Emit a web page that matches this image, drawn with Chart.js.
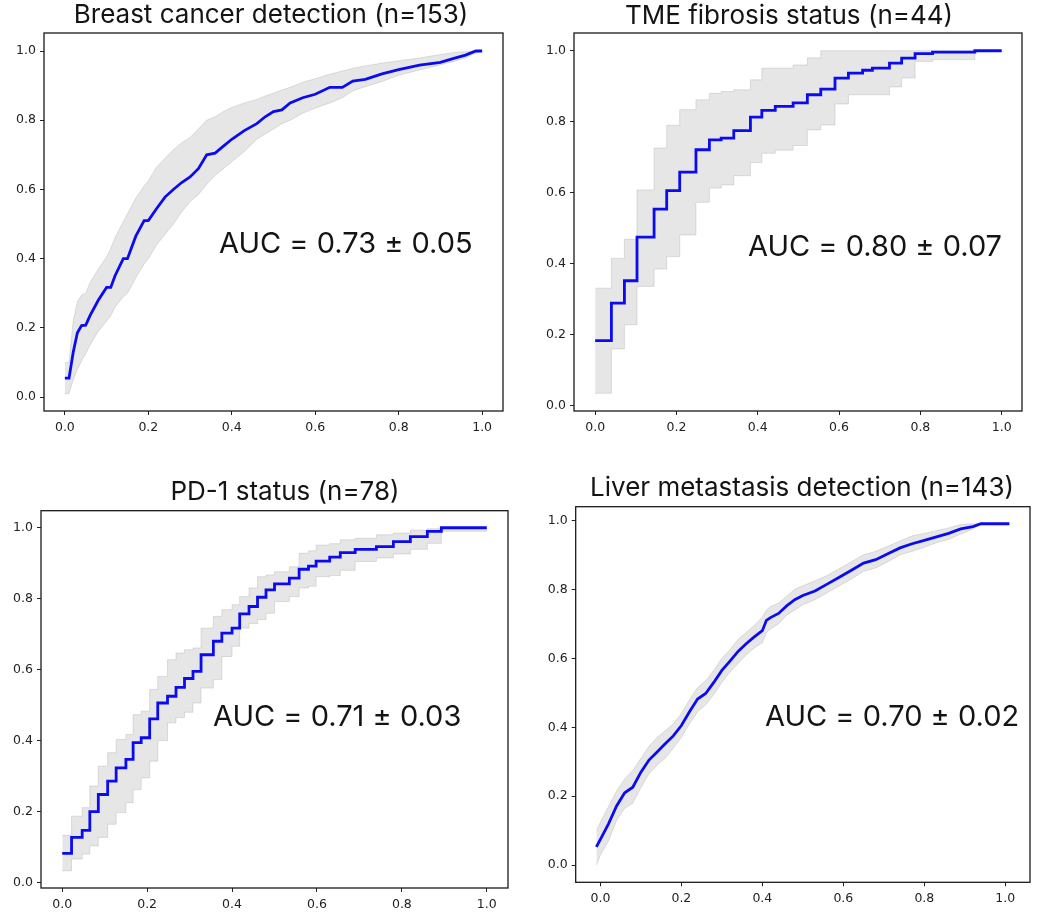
<!DOCTYPE html>
<html>
<head>
<meta charset="utf-8">
<script src="https://cdn.jsdelivr.net/npm/chart.js@4.4.1/dist/chart.umd.min.js"></script>
<style>
  html, body { margin: 0; padding: 0; background: #ffffff; }
  #wrap { position: relative; width: 1057px; height: 923px; overflow: hidden; }
  canvas { position: absolute; }
</style>
</head>
<body>
<div id="wrap">
  <canvas id="c1" width="520" height="450" style="left:0px;top:0px;width:520px;height:450px"></canvas>
  <canvas id="c2" width="537" height="450" style="left:520px;top:0px;width:537px;height:450px"></canvas>
  <canvas id="c3" width="520" height="463" style="left:0px;top:460px;width:520px;height:463px"></canvas>
  <canvas id="c4" width="537" height="463" style="left:520px;top:460px;width:537px;height:463px"></canvas>
</div>
<script>
// ---------------- data ----------------
const tickValues = [0, 0.2, 0.4, 0.6, 0.8, 1.0];

const titles = [
  "Breast cancer detection (n=153)",
  "TME fibrosis status (n=44)",
  "PD-1 status (n=78)",
  "Liver metastasis detection (n=143)"
];
const aucLabels = ["AUC = 0.73 \u00b1 0.05", "AUC = 0.80 \u00b1 0.07", "AUC = 0.71 \u00b1 0.03", "AUC = 0.70 \u00b1 0.02"];

// Breast cancer detection
const breastFpr   = [0, 0.01, 0.02, 0.03, 0.04, 0.05, 0.06, 0.08, 0.10, 0.11, 0.12, 0.14, 0.15, 0.17, 0.19, 0.20, 0.22, 0.24, 0.26, 0.28, 0.30, 0.32, 0.34, 0.36, 0.38, 0.40, 0.43, 0.46, 0.48, 0.50, 0.52, 0.54, 0.57, 0.60, 0.635, 0.665, 0.69, 0.72, 0.76, 0.80, 0.85, 0.90, 0.93, 0.96, 0.985, 1.0];
const breastMean  = [0.055, 0.055, 0.13, 0.186, 0.207, 0.208, 0.235, 0.28, 0.317, 0.317, 0.35, 0.40, 0.40, 0.465, 0.51, 0.51, 0.545, 0.578, 0.60, 0.62, 0.636, 0.66, 0.70, 0.705, 0.725, 0.745, 0.77, 0.79, 0.81, 0.825, 0.83, 0.85, 0.865, 0.875, 0.895, 0.895, 0.913, 0.918, 0.934, 0.946, 0.959, 0.967, 0.978, 0.988, 1.0, 1.0];
const breastUpper = [0.10, 0.10, 0.22, 0.275, 0.295, 0.30, 0.33, 0.37, 0.405, 0.43, 0.46, 0.507, 0.53, 0.575, 0.61, 0.625, 0.665, 0.69, 0.715, 0.735, 0.75, 0.775, 0.80, 0.81, 0.825, 0.837, 0.85, 0.86, 0.87, 0.878, 0.887, 0.895, 0.91, 0.92, 0.933, 0.942, 0.95, 0.957, 0.965, 0.972, 0.98, 0.99, 0.995, 0.998, 1.0, 1.0];
const breastLower = [0.01, 0.01, 0.05, 0.08, 0.105, 0.125, 0.15, 0.19, 0.22, 0.235, 0.26, 0.29, 0.30, 0.345, 0.385, 0.40, 0.44, 0.47, 0.50, 0.535, 0.565, 0.585, 0.615, 0.64, 0.66, 0.68, 0.71, 0.745, 0.76, 0.775, 0.79, 0.80, 0.82, 0.835, 0.85, 0.865, 0.885, 0.897, 0.912, 0.93, 0.945, 0.96, 0.969, 0.98, 0.995, 1.0];

// TME fibrosis status (step curve)
const fibrosisFpr   = [0, 0.04, 0.072, 0.103, 0.145, 0.176, 0.208, 0.248, 0.281, 0.31, 0.341, 0.382, 0.41, 0.443, 0.487, 0.522, 0.555, 0.59, 0.623, 0.658, 0.682, 0.724, 0.754, 0.787, 0.83, 0.934, 1.0];
const fibrosisMean  = [0.183, 0.289, 0.352, 0.475, 0.554, 0.606, 0.658, 0.721, 0.749, 0.754, 0.775, 0.813, 0.832, 0.843, 0.853, 0.876, 0.892, 0.923, 0.937, 0.945, 0.951, 0.965, 0.979, 0.992, 0.996, 1.0, 1.0];
const fibrosisUpper = [0.331, 0.415, 0.469, 0.608, 0.726, 0.79, 0.834, 0.862, 0.88, 0.885, 0.89, 0.918, 0.951, 0.951, 0.96, 0.98, 1.0, 1.0, 1.0, 1.0, 1.0, 1.0, 1.0, 1.0, 1.0, 1.0, 1.0];
const fibrosisLower = [0.035, 0.16, 0.228, 0.336, 0.385, 0.42, 0.481, 0.573, 0.613, 0.622, 0.648, 0.685, 0.711, 0.72, 0.733, 0.777, 0.791, 0.85, 0.876, 0.876, 0.876, 0.898, 0.923, 0.97, 0.975, 1.0, 1.0];

// PD-1 status (step curve)
const pd1Fpr   = [0, 0.022, 0.047, 0.065, 0.085, 0.107, 0.127, 0.15, 0.167, 0.186, 0.206, 0.225, 0.248, 0.268, 0.288, 0.308, 0.327, 0.356, 0.376, 0.40, 0.418, 0.44, 0.46, 0.48, 0.50, 0.535, 0.558, 0.58, 0.598, 0.63, 0.655, 0.69, 0.74, 0.78, 0.82, 0.86, 0.893, 1.0];
const pd1Mean  = [0.082, 0.127, 0.147, 0.20, 0.248, 0.286, 0.323, 0.347, 0.394, 0.408, 0.461, 0.506, 0.525, 0.55, 0.575, 0.595, 0.642, 0.68, 0.703, 0.717, 0.757, 0.778, 0.804, 0.825, 0.842, 0.858, 0.883, 0.892, 0.906, 0.917, 0.93, 0.939, 0.947, 0.961, 0.975, 0.99, 1.0, 1.0];
const pd1Upper = [0.133, 0.187, 0.211, 0.272, 0.328, 0.366, 0.403, 0.417, 0.473, 0.483, 0.544, 0.581, 0.628, 0.647, 0.656, 0.661, 0.717, 0.75, 0.769, 0.783, 0.806, 0.83, 0.862, 0.867, 0.876, 0.89, 0.928, 0.935, 0.951, 0.955, 0.966, 0.97, 0.98, 0.985, 0.993, 0.997, 1.0, 1.0];
const pd1Lower = [0.033, 0.066, 0.08, 0.103, 0.127, 0.164, 0.197, 0.225, 0.262, 0.295, 0.342, 0.40, 0.45, 0.465, 0.48, 0.506, 0.548, 0.572, 0.637, 0.666, 0.717, 0.73, 0.741, 0.759, 0.792, 0.806, 0.83, 0.835, 0.862, 0.865, 0.88, 0.905, 0.915, 0.926, 0.939, 0.956, 0.99, 1.0];

// Liver metastasis detection
const liverFpr   = [-0.01, 0.0, 0.02, 0.04, 0.06, 0.08, 0.10, 0.12, 0.14, 0.16, 0.18, 0.20, 0.22, 0.24, 0.26, 0.28, 0.30, 0.32, 0.34, 0.36, 0.38, 0.40, 0.41, 0.42, 0.44, 0.46, 0.48, 0.50, 0.53, 0.56, 0.59, 0.62, 0.65, 0.68, 0.71, 0.74, 0.77, 0.80, 0.83, 0.86, 0.89, 0.92, 0.94, 1.01];
const liverMean  = [0.053, 0.075, 0.12, 0.172, 0.21, 0.226, 0.27, 0.305, 0.328, 0.352, 0.375, 0.405, 0.445, 0.482, 0.498, 0.53, 0.565, 0.592, 0.62, 0.642, 0.662, 0.68, 0.71, 0.718, 0.73, 0.752, 0.77, 0.782, 0.795, 0.815, 0.835, 0.855, 0.876, 0.886, 0.903, 0.92, 0.932, 0.942, 0.952, 0.962, 0.975, 0.982, 0.99, 0.99];
const liverUpper = [0.10, 0.125, 0.17, 0.215, 0.25, 0.275, 0.31, 0.345, 0.37, 0.39, 0.41, 0.44, 0.48, 0.515, 0.535, 0.565, 0.60, 0.625, 0.655, 0.675, 0.695, 0.72, 0.74, 0.75, 0.76, 0.78, 0.80, 0.81, 0.825, 0.84, 0.86, 0.88, 0.90, 0.91, 0.925, 0.94, 0.955, 0.962, 0.97, 0.978, 0.988, 0.99, 0.99, 0.99];
const liverLower = [0.0, 0.03, 0.07, 0.13, 0.165, 0.18, 0.225, 0.265, 0.29, 0.31, 0.34, 0.37, 0.41, 0.445, 0.465, 0.495, 0.53, 0.56, 0.585, 0.61, 0.63, 0.645, 0.675, 0.685, 0.70, 0.725, 0.74, 0.755, 0.77, 0.79, 0.81, 0.83, 0.852, 0.862, 0.88, 0.90, 0.91, 0.922, 0.935, 0.945, 0.96, 0.975, 0.99, 0.99];

// ---------------- rendering ----------------
const toPts = (xs, ys) => xs.map((x, i) => ({ x: x, y: ys[i] }));

const decorPlugin = {
  id: 'decor',
  afterDraw(chart, args, o) {
    const ctx = chart.ctx, a = chart.chartArea;
    ctx.save();
    ctx.strokeStyle = '#1a1a1a';
    ctx.lineWidth = 1.3;
    ctx.strokeRect(a.left, a.top, a.right - a.left, a.bottom - a.top);
    ctx.fillStyle = '#141414';
    ctx.textBaseline = 'alphabetic';
    ctx.font = '26px Inter';
    ctx.textAlign = 'center';
    ctx.fillText(o.title, o.titleX, o.titleY);
    ctx.font = '29px Inter';
    ctx.textAlign = 'left';
    ctx.fillText(o.auc, o.aucX, o.aucY);
    ctx.restore();
  }
};

function makePanel(id, cfg) {
  const stepped = cfg.stepped ? 'before' : false;
  const tickFont = { family: 'DejaVu Sans', size: 12.5 };
  new Chart(document.getElementById(id), {
    type: 'line',
    data: {
      datasets: [
        { data: toPts(cfg.fpr, cfg.upper), fill: '+1', backgroundColor: 'rgba(128,128,128,0.2)',
          borderColor: 'rgba(150,150,150,0.35)', borderWidth: 0.8, pointRadius: 0, stepped: stepped, order: 2 },
        { data: toPts(cfg.fpr, cfg.lower), fill: false,
          borderColor: 'rgba(150,150,150,0.35)', borderWidth: 0.8, pointRadius: 0, stepped: stepped, order: 3 },
        { data: toPts(cfg.fpr, cfg.mean), fill: false, borderColor: '#0b0bf0', borderWidth: 2.8,
          pointRadius: 0, stepped: stepped, order: 0, borderJoinStyle: 'miter' }
      ]
    },
    options: {
      responsive: false,
      animation: false,
      events: [],
      layout: { padding: cfg.pad },
      plugins: {
        legend: { display: false },
        tooltip: { enabled: false },
        title: { display: false },
        decor: { title: cfg.title, titleX: cfg.titleX, titleY: cfg.titleY, auc: cfg.auc, aucX: cfg.aucX, aucY: cfg.aucY }
      },
      scales: {
        x: {
          type: 'linear', min: cfg.xmin, max: cfg.xmax,
          afterBuildTicks: s => { s.ticks = tickValues.map(v => ({ value: v })); },
          afterFit: s => { s.height = 25; },
          grid: { drawOnChartArea: false, drawTicks: true, tickLength: 4, color: '#222', lineWidth: 1 },
          border: { display: false },
          ticks: { font: tickFont, color: '#222', padding: 5, maxRotation: 0, autoSkip: false,
                   callback: v => Number(v).toFixed(1) }
        },
        y: {
          type: 'linear', min: cfg.ymin, max: cfg.ymax,
          afterBuildTicks: s => { s.ticks = tickValues.map(v => ({ value: v })); },
          afterFit: s => { s.width = 40; },
          grid: { drawOnChartArea: false, drawTicks: true, tickLength: 4, color: '#222', lineWidth: 1 },
          border: { display: false },
          ticks: { font: tickFont, color: '#222', padding: 4, autoSkip: false,
                   callback: v => Number(v).toFixed(1) }
        }
      }
    },
    plugins: [decorPlugin]
  });
}

makePanel('c1', {
  fpr: breastFpr, mean: breastMean, upper: breastUpper, lower: breastLower, stepped: false,
  xmin: -0.05, xmax: 1.05, ymin: -0.04, ymax: 1.052,
  pad: { left: 4, top: 33, right: 17, bottom: 14 },
  title: titles[0], titleX: 271, titleY: 23, auc: aucLabels[0], aucX: 219, aucY: 253
});
makePanel('c2', {
  fpr: fibrosisFpr, mean: fibrosisMean, upper: fibrosisUpper, lower: fibrosisLower, stepped: true,
  xmin: -0.052, xmax: 1.05, ymin: -0.015, ymax: 1.05,
  pad: { left: 14, top: 33, right: 35, bottom: 14 },
  title: titles[1], titleX: 269, titleY: 24, auc: aucLabels[1], aucX: 228, aucY: 256
});
makePanel('c3', {
  fpr: pd1Fpr, mean: pd1Mean, upper: pd1Upper, lower: pd1Lower, stepped: true,
  xmin: -0.05, xmax: 1.05, ymin: -0.0155, ymax: 1.048,
  pad: { left: 1, top: 50.7, right: 12, bottom: 10 },
  title: titles[2], titleX: 285, titleY: 40, auc: aucLabels[2], aucX: 213, aucY: 266
});
makePanel('c4', {
  fpr: liverFpr, mean: liverMean, upper: liverUpper, lower: liverLower, stepped: false,
  xmin: -0.061, xmax: 1.061, ymin: -0.0495, ymax: 1.0395,
  pad: { left: 15.7, top: 46.7, right: 27, bottom: 15.7 },
  title: titles[3], titleX: 282, titleY: 36, auc: aucLabels[3], aucX: 245, aucY: 266
});
</script>
</body>
</html>
